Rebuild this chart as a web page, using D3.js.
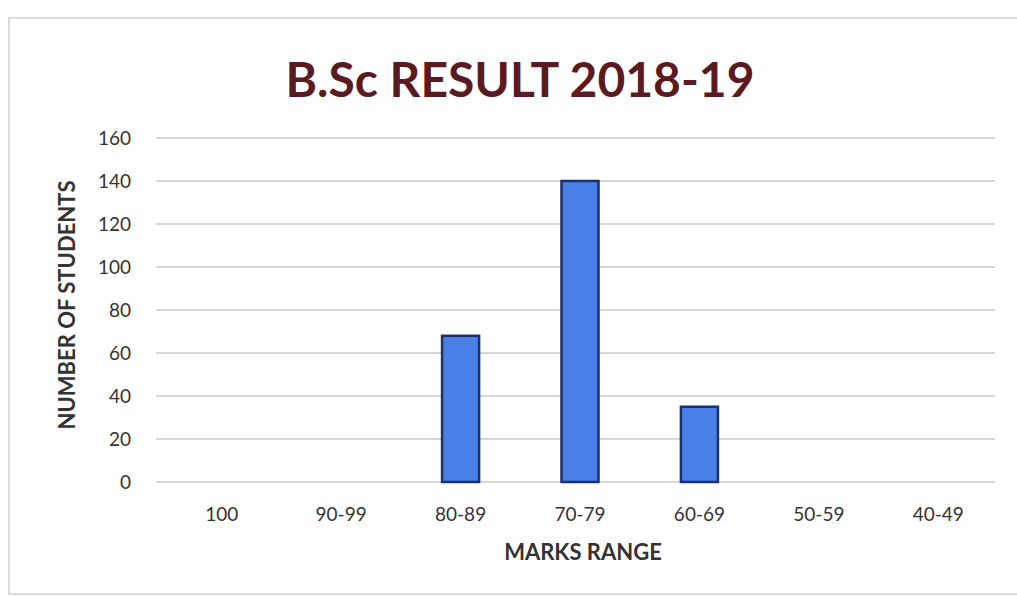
<!DOCTYPE html>
<html><head><meta charset="utf-8">
<script src="https://cdn.jsdelivr.net/npm/d3@7"></script>
<style>body{margin:0;background:#fff;}svg{display:block;}</style>
</head><body>
<svg id="c" width="1017" height="596"></svg>
<script>
const categories = ["100","90-99","80-89","70-79","60-69","50-59","40-49"];
const students = [0,0,68,140,35,0,0];
const yTicks = [0,20,40,60,80,100,120,140,160];
const titleText = "B.Sc RESULT 2018-19";
const xTitle = "MARKS RANGE";
const yTitle = "NUMBER OF STUDENTS";

const svg = d3.select("#c");
const font = "Lato, 'Open Sans', sans-serif";
// frame
svg.append("rect").attr("x",9).attr("y",18).attr("width",1010).attr("height",576)
  .attr("fill","none").attr("stroke","#cfcfcf").attr("stroke-width",1.5);

const m = {left:162, right:998, top:138, bottom:482};
const x = d3.scaleBand().domain(categories).range([m.left,m.right]).paddingInner(0.69).paddingOuter(0.345);
const y = d3.scaleLinear().domain([0,160]).range([m.bottom,m.top]);

// gridlines
svg.append("g").selectAll("line").data(yTicks).join("line")
  .attr("x1",156).attr("x2",995)
  .attr("y1",d=>y(d)).attr("y2",d=>y(d))
  .attr("stroke","#cacaca").attr("stroke-width",1.3);

// y axis labels
const ya = svg.append("g").attr("transform",`translate(131,0)`)
  .call(d3.axisLeft(y).tickValues(yTicks).tickSize(0).tickPadding(0));
ya.select(".domain").remove();
ya.selectAll("text").attr("font-family",font).attr("font-size",19).attr("fill","#333").attr("text-anchor","end").attr("x",0);

// x axis labels
const xa = svg.append("g").attr("transform",`translate(0,${m.bottom+25})`)
  .call(d3.axisBottom(x).tickSize(0).tickPadding(0));
xa.select(".domain").remove();
xa.selectAll("text").attr("font-family",font).attr("font-size",19).attr("fill","#333");

// bars
svg.append("g").selectAll("rect").data(categories.map((c,i)=>({c,v:students[i]})).filter(d=>d.v>0)).join("rect")
  .attr("x",d=>x(d.c)).attr("width",x.bandwidth())
  .attr("y",d=>y(d.v)).attr("height",d=>y(0)-y(d.v))
  .attr("fill","#4a80e6").attr("stroke","#1b2f73").attr("stroke-width",2.5);

// titles
svg.append("text").attr("x",520).attr("y",97).attr("text-anchor","middle")
  .attr("font-family",font).attr("font-weight","bold").attr("font-size",48)
  .attr("fill","#5b1a22").text(titleText);
svg.append("text").attr("x",583).attr("y",560).attr("text-anchor","middle")
  .attr("font-family",font).attr("font-weight","bold").attr("font-size",22)
  .attr("fill","#333").text(xTitle);
svg.append("text").attr("transform","translate(75,305) rotate(-90)").attr("text-anchor","middle")
  .attr("font-family",font).attr("font-weight","bold").attr("font-size",22)
  .attr("fill","#333").text(yTitle);
</script>
</body></html>
